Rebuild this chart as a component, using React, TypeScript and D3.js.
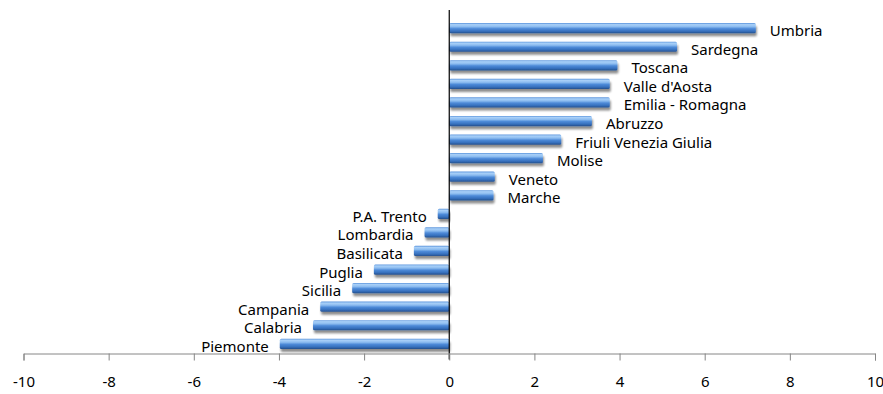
import React, { useEffect, useRef } from 'react';
import * as d3 from 'd3';

const regions = [
  'Umbria', 'Sardegna', 'Toscana', "Valle d'Aosta", 'Emilia - Romagna', 'Abruzzo',
  'Friuli Venezia Giulia', 'Molise', 'Veneto', 'Marche', 'P.A. Trento', 'Lombardia',
  'Basilicata', 'Puglia', 'Sicilia', 'Campania', 'Calabria', 'Piemonte',
];
const values = [
  7.2, 5.35, 3.95, 3.77, 3.77, 3.35, 2.63, 2.2, 1.07, 1.04, -0.27, -0.58,
  -0.83, -1.77, -2.28, -3.03, -3.2, -3.98,
];
const xTicks = [-10, -8, -6, -4, -2, 0, 2, 4, 6, 8, 10];

const W = 883;
const H = 394;
const FONT = '"Noto Sans", "Open Sans", sans-serif';

const App: React.FC = () => {
  const ref = useRef<SVGSVGElement>(null);

  useEffect(() => {
    const svg = d3.select(ref.current);
    svg.selectAll('*').remove();

    const data = regions.map((name, i) => ({ name, value: values[i] }));

    const x = d3.scaleLinear().domain([-10, 10]).range([23.5, 875]);
    const y = d3.scaleBand<string>()
      .domain(regions)
      .range([19, 353])
      .paddingInner(0.45)
      .paddingOuter(0.22);
    const axisY = 353.5;

    const defs = svg.append('defs');
    const grad = defs.append('linearGradient')
      .attr('id', 'barGrad')
      .attr('x1', 0).attr('y1', 0).attr('x2', 0).attr('y2', 1);
    [
      ['0%', '#5a94dc'],
      ['15%', '#a9d0f8'],
      ['35%', '#8cbcf0'],
      ['55%', '#4d8ad8'],
      ['80%', '#3670bd'],
      ['100%', '#244f8c'],
    ].forEach(([o, c]) => grad.append('stop').attr('offset', o).attr('stop-color', c));

    const shadow = defs.append('filter')
      .attr('id', 'shadow')
      .attr('x', '-10%').attr('y', '-50%')
      .attr('width', '120%').attr('height', '250%');
    shadow.append('feGaussianBlur').attr('in', 'SourceAlpha').attr('stdDeviation', 1.3);
    shadow.append('feOffset').attr('dx', 1).attr('dy', 2.5).attr('result', 'blur');
    shadow.append('feComponentTransfer')
      .append('feFuncA').attr('type', 'linear').attr('slope', 0.45);
    const merge = shadow.append('feMerge');
    merge.append('feMergeNode');
    merge.append('feMergeNode').attr('in', 'SourceGraphic');

    // bars
    svg.append('g')
      .selectAll('rect')
      .data(data)
      .join('rect')
      .attr('x', d => x(Math.min(0, d.value)))
      .attr('y', d => y(d.name)!)
      .attr('width', d => Math.abs(x(d.value) - x(0)))
      .attr('height', y.bandwidth())
      .attr('rx', 1.5)
      .attr('fill', 'url(#barGrad)')
      .attr('filter', 'url(#shadow)');

    // category labels next to bar ends
    svg.append('g')
      .attr('font-family', FONT)
      .attr('font-size', 15)
      .attr('fill', '#000')
      .selectAll('text')
      .data(data)
      .join('text')
      .attr('x', d => (d.value >= 0 ? x(d.value) + 14 : x(d.value) - 11))
      .attr('y', d => y(d.name)! + y.bandwidth() / 2 + 8)
      .attr('text-anchor', d => (d.value >= 0 ? 'start' : 'end'))
      .text(d => d.name);

    // zero line
    svg.append('line')
      .attr('x1', x(0)).attr('x2', x(0))
      .attr('y1', 10).attr('y2', axisY + 6)
      .attr('stroke', '#000')
      .attr('stroke-width', 1.2);

    // x axis
    const axis = svg.append('g')
      .attr('transform', `translate(0,${axisY})`)
      .call(d3.axisBottom(x).tickValues(xTicks).tickSize(7).tickPadding(16).tickFormat(d => String(d)));
    axis.select('.domain').attr('stroke', '#868686');
    axis.selectAll('.tick line').attr('stroke', '#868686');
    axis.selectAll('.tick text')
      .attr('font-family', FONT)
      .attr('font-size', 15)
      .attr('fill', '#000');
  }, []);

  return (
    <svg
      ref={ref}
      width={W}
      height={H}
      style={{ position: 'absolute', left: 0, top: 0, background: '#fff' }}
    />
  );
};

export default App;
